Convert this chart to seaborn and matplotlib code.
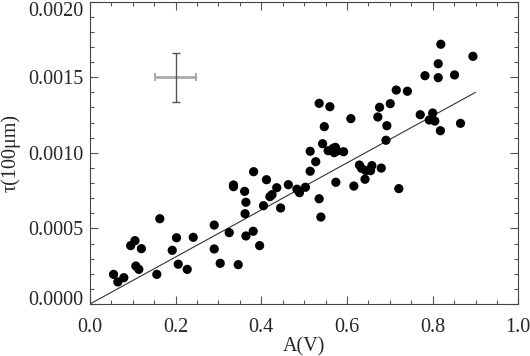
import numpy as np
import pandas as pd
import matplotlib
matplotlib.use('Agg')
import matplotlib.pyplot as plt
from matplotlib.ticker import MultipleLocator
from matplotlib.transforms import ScaledTranslation
import seaborn as sns

sns.set_style('ticks')
plt.rcParams['font.family'] = ['Liberation Serif', 'DejaVu Serif']

# data
av = [0.055, 0.065, 0.079, 0.095, 0.105, 0.107, 0.114, 0.120, 0.163, 0.156,
      0.192, 0.202, 0.206, 0.227, 0.241, 0.290, 0.290, 0.304, 0.325, 0.346,
      0.364, 0.381, 0.396, 0.362, 0.364, 0.361, 0.335, 0.335, 0.382, 0.405,
      0.412, 0.420, 0.425, 0.436, 0.445, 0.463, 0.483, 0.489, 0.503, 0.535,
      0.539, 0.514, 0.514, 0.527, 0.543, 0.556, 0.568, 0.573, 0.570, 0.577,
      0.592, 0.574, 0.616, 0.629, 0.634, 0.644, 0.642, 0.609, 0.655, 0.658,
      0.680, 0.721, 0.691, 0.693, 0.672, 0.676, 0.701, 0.715, 0.741, 0.771,
      0.800, 0.792, 0.805, 0.818, 0.865, 0.782, 0.813, 0.813, 0.819, 0.851,
      0.894, 0.535, 0.560, 0.547]
tau = [0.000196, 0.000146, 0.000174, 0.000386, 0.000419, 0.000251, 0.000229,
       0.000366, 0.000564, 0.000196, 0.000355, 0.000438, 0.000263, 0.000229,
       0.000441, 0.000522, 0.000364, 0.000269, 0.000472, 0.000260, 0.000450,
       0.000481, 0.000386, 0.000597, 0.000673, 0.000745, 0.000787, 0.000776,
       0.000875, 0.000650, 0.000822, 0.000710, 0.000723, 0.000769, 0.000635,
       0.000789, 0.000759, 0.000736, 0.000772, 0.000696, 0.000575, 0.000878,
       0.001010, 0.000941, 0.001060, 0.001014, 0.001030, 0.001036, 0.001001,
       0.001012, 0.001007, 0.000805, 0.000780, 0.000919, 0.000897, 0.000882,
       0.000825, 0.001226, 0.000882, 0.000915, 0.000899, 0.000763, 0.001083,
       0.001179, 0.001237, 0.001301, 0.001325, 0.001415, 0.001407, 0.001252,
       0.001263, 0.001217, 0.001210, 0.001146, 0.001195, 0.001510, 0.001497,
       0.001589, 0.001718, 0.001515, 0.001638, 0.001327, 0.001305, 0.001173]

fit_x = [0.0, 0.9]
fit_y = [0.0, 0.0014]

err_x, err_y = [0.20], [0.0015]
err_dx, err_dy = 0.048, 0.000162

y_ticks = [0.0, 0.0005, 0.0010, 0.0015, 0.0020]

df = pd.DataFrame({'av': av, 'tau': tau})
fit_df = pd.DataFrame({'av': fit_x, 'tau': fit_y})

fig = plt.figure(figsize=(5.3, 3.56), dpi=100)
ax = fig.add_axes([0.1698, 0.1461, 0.8082, 0.8494])

sns.lineplot(data=fit_df, x='av', y='tau', ax=ax, color='#333333', lw=0.8)
sns.scatterplot(data=df, x='av', y='tau', ax=ax, color='black', s=44,
                edgecolor='none', zorder=3)

# typical error cross
ax.errorbar(err_x, err_y, xerr=err_dx, fmt='none', ecolor='#aaaaaa',
            elinewidth=2.0, capsize=3, capthick=1.5)
ax.errorbar(err_x, err_y, yerr=err_dy, fmt='none', ecolor='#555555',
            elinewidth=1.0, capsize=3, capthick=1.0)

ax.set_xlim(0, 1.0)
ax.set_ylim(0, 0.002)
ax.xaxis.set_major_locator(MultipleLocator(0.2))
ax.xaxis.set_minor_locator(MultipleLocator(0.05))
ax.set_yticks(y_ticks)
ax.yaxis.set_minor_locator(MultipleLocator(0.0001))
ax.xaxis.set_major_formatter(lambda v, p: '{:.1f}'.format(v))
ax.yaxis.set_major_formatter(lambda v, p: '{:.4f}'.format(v))

ax.tick_params(which='both', direction='in', top=True, right=True,
               color='#555555', labelsize=14.5, width=0.8)
ax.tick_params(which='major', length=6)
ax.tick_params(axis='x', which='major', pad=10)
ax.tick_params(axis='y', which='major', pad=5)
ax.tick_params(which='minor', length=3)
for sp in ax.spines.values():
    sp.set_color('#444444')
    sp.set_linewidth(0.8)

# end labels sit inside the axis range, as in the original
yt = ax.yaxis.get_major_ticks()
lab = yt[-1].label1
lab.set_transform(lab.get_transform() + ScaledTranslation(0, -5 / 72, fig.dpi_scale_trans))
lab = yt[0].label1
lab.set_transform(lab.get_transform() + ScaledTranslation(0, 4 / 72, fig.dpi_scale_trans))

ax.set_xlabel('A(V)', fontsize=14.5, labelpad=0)
ax.set_ylabel('τ(100μm)', fontsize=14.5, labelpad=5)

fig.savefig('out.png', dpi=100)
